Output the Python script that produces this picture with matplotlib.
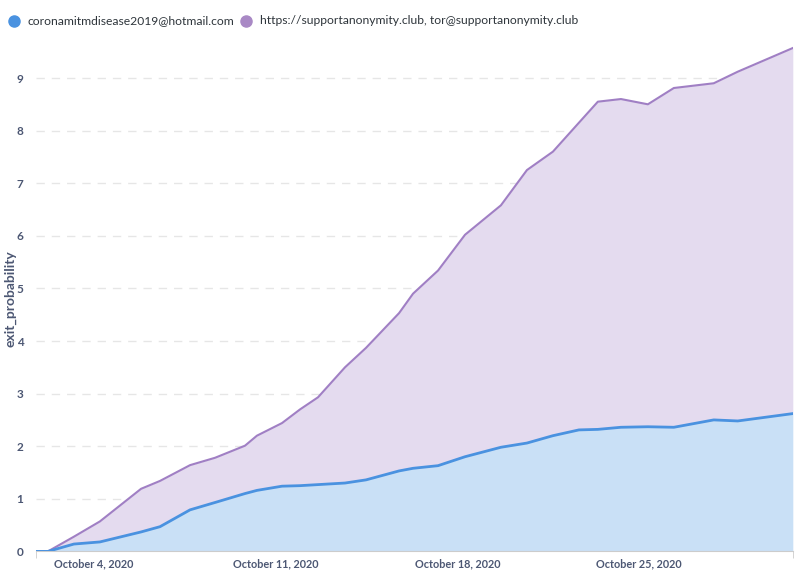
import matplotlib
matplotlib.use("Agg")
import matplotlib.pyplot as plt
import matplotlib.dates as mdates
from matplotlib.lines import Line2D
import numpy as np
import pandas as pd

# sample times (irregular)
times = [
    "2020-10-01 19:00", "2020-10-02 06:00", "2020-10-03 06:00", "2020-10-04 06:00",
    "2020-10-05 20:00", "2020-10-06 13:30", "2020-10-07 17:15", "2020-10-08 16:20",
    "2020-10-09 20:00", "2020-10-10 07:00", "2020-10-11 06:10", "2020-10-11 22:50",
    "2020-10-12 15:25", "2020-10-13 16:20", "2020-10-14 11:45", "2020-10-15 18:15",
    "2020-10-16 07:10", "2020-10-17 06:15", "2020-10-18 07:10", "2020-10-19 16:20",
    "2020-10-20 16:20", "2020-10-21 16:20", "2020-10-22 16:20", "2020-10-23 09:50",
    "2020-10-24 07:10", "2020-10-25 08:00", "2020-10-26 08:00", "2020-10-27 20:50",
    "2020-10-28 19:00", "2020-10-30 21:50",
]

# coronamitmdisease2019@hotmail.com
hotmail = [0.0, 0.0, 0.14, 0.18, 0.37, 0.47, 0.79, 0.93, 1.10, 1.16, 1.24, 1.25,
           1.27, 1.30, 1.36, 1.53, 1.58, 1.63, 1.80, 1.98, 2.06, 2.20, 2.31, 2.32,
           2.36, 2.37, 2.36, 2.50, 2.48, 2.62]

# stacked total (top edge of the purple band)
total = [0.0, 0.0, 0.28, 0.57, 1.19, 1.34, 1.64, 1.78, 2.01, 2.20, 2.44, 2.70,
         2.93, 3.50, 3.87, 4.53, 4.90, 5.34, 6.02, 6.58, 7.25, 7.60, 8.15, 8.55,
         8.60, 8.50, 8.81, 8.90, 9.12, 9.57]

# https://supportanonymity.club, tor@supportanonymity.club
support = [t - h for t, h in zip(total, hotmail)]

labels = ["coronamitmdisease2019@hotmail.com",
          "https://supportanonymity.club, tor@supportanonymity.club"]

blue_line, blue_fill = "#4A92E0", "#C9E0F6"
purple_line, purple_fill = "#A07FC4", "#E4DBEF"
axis_text = "#4C5773"

plt.rcParams['font.family'] = ['Lato', 'DejaVu Sans']

x = pd.to_datetime(times)
y1 = np.array(hotmail)
y2 = y1 + np.array(support)

fig = plt.figure(figsize=(8, 5.72), dpi=100)
ax = fig.add_axes([0.045, 0.036, 0.946, 0.892])

ax.fill_between(x, 0, y1, color=blue_fill, lw=0, zorder=2)
ax.fill_between(x, y1, y2, color=purple_fill, lw=0, zorder=2)
ax.plot(x, y2, color=purple_line, lw=1.5, zorder=3)
ax.plot(x, y1, color=blue_line, lw=2, zorder=4)

ax.set_xlim(x[0], x[-1])
ax.set_ylim(0, 9.7)
ax.set_yticks(range(0, 10))
ax.grid(axis='y', color='#E6E6E6', ls=(0, (6, 5)), lw=1, zorder=1)

ax.xaxis.set_major_locator(mdates.DayLocator(bymonthday=[4, 11, 18, 25]))
ax.xaxis.set_major_formatter(mdates.DateFormatter("%B %-d, %Y"))
ax.set_xticks([mdates.date2num(x[0]), mdates.date2num(x[-1])], minor=True)
ax.tick_params(axis='x', which='major', length=0, pad=5, labelsize=7.8, labelcolor=axis_text)
ax.tick_params(axis='x', which='minor', length=5, color='#CCCCCC')
ax.tick_params(axis='y', length=0, pad=9, labelsize=8.5, labelcolor=axis_text)
for lab in ax.get_xticklabels() + ax.get_yticklabels():
    lab.set_fontweight('bold')

for s in ['top', 'right', 'left']:
    ax.spines[s].set_visible(False)
ax.spines['bottom'].set_color('#CCCCCC')

ax.set_ylabel("exit_probability", fontsize=10, fontweight='bold', color=axis_text)
ax.yaxis.set_label_coords(-0.026, 0.495)

# legend row on top
ly = 1 - 21 / 572
fig.add_artist(Line2D([14 / 800], [ly], marker='o', markersize=8, color=blue_line,
                      transform=fig.transFigure))
fig.text(27 / 800, ly, labels[0], color='#2E353B', fontsize=8.7, va='center')
fig.add_artist(Line2D([246 / 800], [ly], marker='o', markersize=8, color="#A989C5",
                      transform=fig.transFigure))
fig.text(260 / 800, ly, labels[1], color='#2E353B', fontsize=8.7, va='center')

fig.savefig("out.png", dpi=100)
